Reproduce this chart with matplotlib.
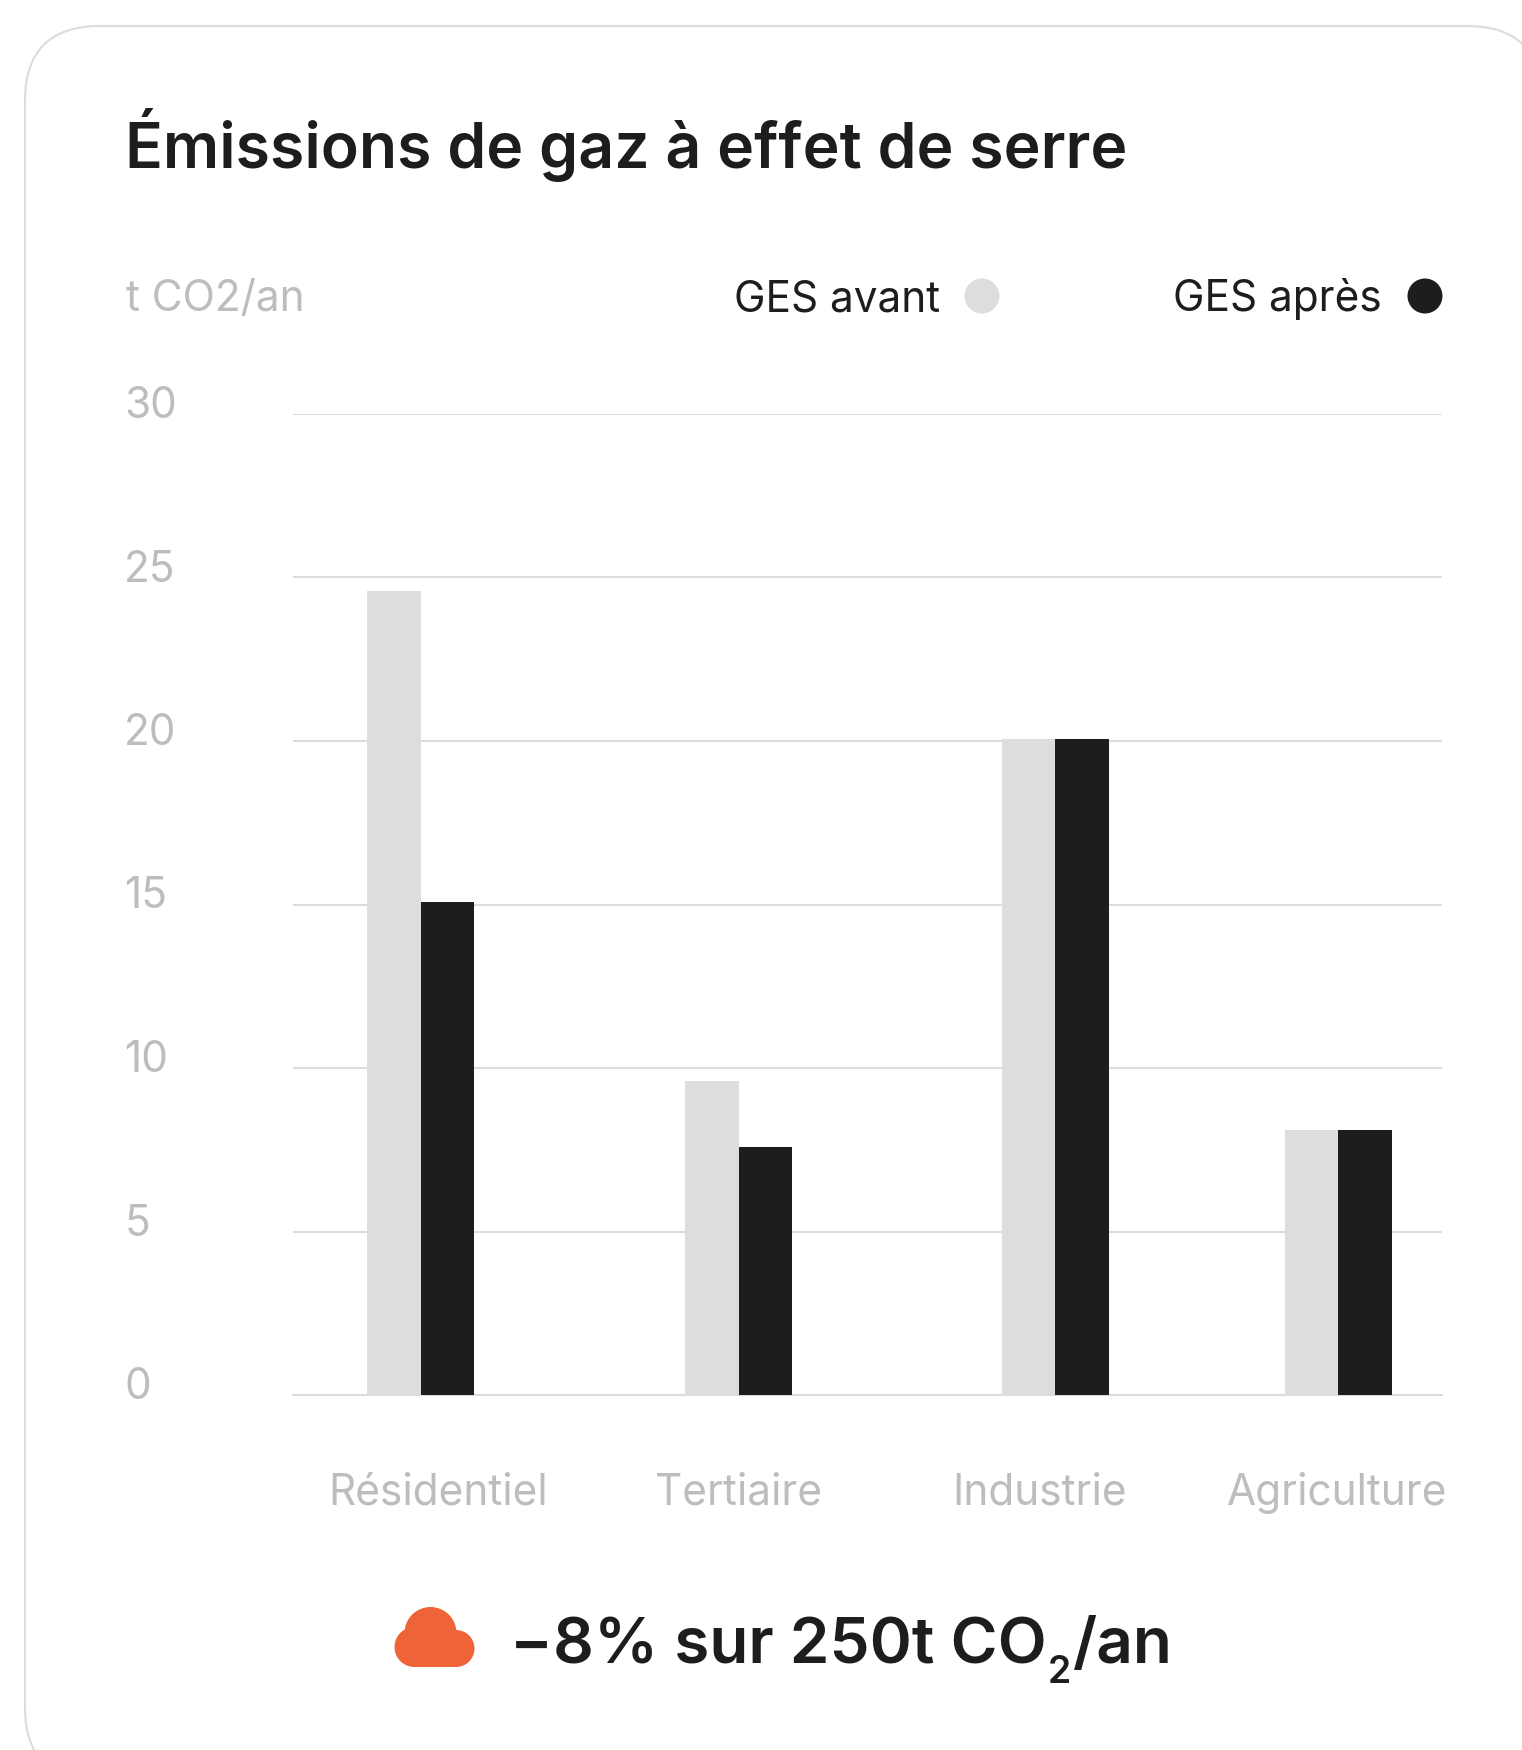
import matplotlib
matplotlib.use("Agg")
import matplotlib.pyplot as plt
from matplotlib.patches import Circle, FancyBboxPatch, Rectangle
from matplotlib.transforms import ScaledTranslation

# donnees
categories = ["Résidentiel", "Tertiaire", "Industrie", "Agriculture"]
ges_avant = [24.6, 9.6, 20.05, 8.1]
ges_apres = [15.07, 7.57, 20.05, 8.1]
y_ticks = [0, 5, 10, 15, 20, 25, 30]

# mise en page, en pixels de l'image
W, H = 1522, 1750
AX_L, AX_R, AX_TOP, AX_BOTTOM = 293, 1442, 414, 1395
bar_centres = [420.5, 738.5, 1055, 1338]
label_centres = [438, 739, 1040, 1337]
bar_w = 53.5

BLACK = "#1d1d1b"
LIGHT = "#dddddd"
GRID = "#dcdcdc"
MUTED = "#bdbdbd"
ORANGE = "#ee6338"
FONT = "Inter"
TEXT_SIZE = 30.5
TITLE_SIZE = 45
SUMMARY_SIZE = 46

plt.rcParams["font.family"] = [FONT, "DejaVu Sans"]

fig = plt.figure(figsize=(W / 100, H / 100), dpi=100, facecolor="white")

# fond : carte, titre, legende, icone
bg = fig.add_axes([0, 0, 1, 1])
bg.set_xlim(0, W)
bg.set_ylim(H, 0)
bg.axis("off")

bg.add_patch(FancyBboxPatch((100, 101), 1367, 1606,
                            boxstyle="round,pad=75,rounding_size=75",
                            fc="white", ec=GRID, lw=1.5))

bg.text(125, 168, "Émissions de gaz à effet de serre", fontsize=TITLE_SIZE,
        fontweight="semibold", color=BLACK, va="baseline")
bg.text(126, 311, "t CO2/an", fontsize=TEXT_SIZE, color=MUTED, va="baseline")

bg.text(940, 311, "GES avant", fontsize=TEXT_SIZE, color=BLACK, ha="right", va="baseline")
bg.add_patch(Circle((982, 296), 17.5, fc=LIGHT, ec="none"))
bg.text(1382, 311, "GES après", fontsize=TEXT_SIZE, color=BLACK, ha="right", va="baseline")
bg.add_patch(Circle((1425, 296), 17.5, fc=BLACK, ec="none"))

# nuage
bg.add_patch(Circle((430.5, 1633), 26, fc=ORANGE, ec="none"))
bg.add_patch(Circle((414.5, 1647), 20, fc=ORANGE, ec="none"))
bg.add_patch(Circle((456, 1648.5), 18.5, fc=ORANGE, ec="none"))
bg.add_patch(Rectangle((414.5, 1635), 41.5, 32, fc=ORANGE, ec="none"))

# resume : trois morceaux pour l'indice, places d'apres la largeur mesuree
renderer = fig.canvas.get_renderer()
t1 = bg.text(510, 1663, "−8% sur 250t CO", fontsize=SUMMARY_SIZE, fontweight="semibold",
             color=BLACK, va="baseline")
x_sub = t1.get_window_extent(renderer).x1 + 1
t2 = bg.text(x_sub, 1683, "2", fontsize=27, fontweight="semibold", color=BLACK, va="baseline")
x_end = t2.get_window_extent(renderer).x1 + 2
bg.text(x_end, 1663, "/an", fontsize=SUMMARY_SIZE, fontweight="semibold", color=BLACK,
        va="baseline")

# graphique
ax = fig.add_axes([AX_L / W, 1 - AX_BOTTOM / H, (AX_R - AX_L) / W, (AX_BOTTOM - AX_TOP) / H])
ax.patch.set_alpha(0)
ax.set_xlim(AX_L, AX_R)
ax.set_ylim(0, 30)
for side in ["top", "right", "left"]:
    ax.spines[side].set_visible(False)
ax.spines["bottom"].set_color(GRID)
ax.spines["bottom"].set_linewidth(1.5)
ax.grid(axis="y", color=GRID, linewidth=1.5)
ax.set_axisbelow(True)

x_avant = [c - bar_w / 2 for c in bar_centres]
x_apres = [c + bar_w / 2 for c in bar_centres]
ax.bar(x_avant, ges_avant, width=bar_w, color=LIGHT, zorder=3)
ax.bar(x_apres, ges_apres, width=bar_w, color=BLACK, zorder=3)

ax.set_xticks(label_centres, categories)
ax.set_yticks(y_ticks)
ax.tick_params(axis="x", length=0, pad=55.5, labelsize=TEXT_SIZE, labelcolor=MUTED)
ax.tick_params(axis="y", length=0, pad=121.5, labelsize=TEXT_SIZE, labelcolor=MUTED)
shift = ScaledTranslation(0, 12 / 100, fig.dpi_scale_trans)
for lab in ax.get_yticklabels():
    lab.set_horizontalalignment("left")
    lab.set_transform(lab.get_transform() + shift)

fig.savefig("out.png", dpi=100)
